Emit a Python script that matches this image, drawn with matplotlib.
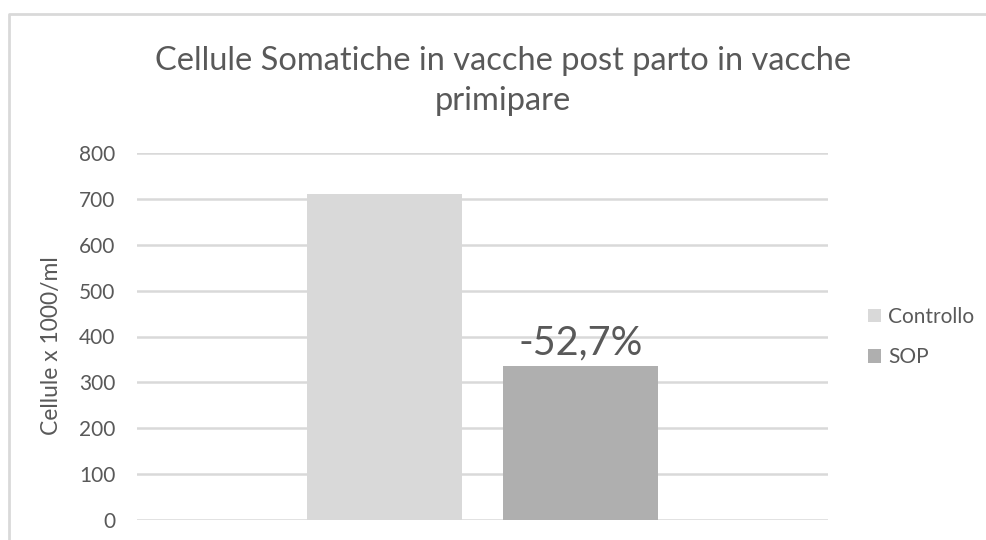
import matplotlib.pyplot as plt
from matplotlib.lines import Line2D
from matplotlib.patches import Patch

plt.rcParams['font.family'] = ['Lato', 'DejaVu Sans']

# dati
serie = ['Controllo', 'SOP']
valori = [711, 336]
colori = ['#d9d9d9', '#afafaf']
etichetta = '-52,7%'
yticks = [0, 100, 200, 300, 400, 500, 600, 700, 800]

W, H = 986, 540
grigio = '#595959'
fig = plt.figure(figsize=(W / 100, H / 100), dpi=100)
ax = fig.add_axes([137 / W, 1 - 520 / H, (828 - 137) / W, (520 - 153) / H])

offset = [-0.142, 0.142]
larghezza = 0.224
for i in range(len(serie)):
    ax.bar(offset[i], valori[i], width=larghezza, color=colori[i], zorder=3)

ax.set_xlim(-0.5, 0.5)
ax.set_ylim(0, 800)
ax.set_yticks(yticks)
ax.set_xticks([])
ax.grid(axis='y', color='#d9d9d9', linewidth=1.8, zorder=0)
for s in ax.spines.values():
    s.set_visible(False)
ax.tick_params(axis='y', length=0, pad=15.5, labelsize=15, labelcolor=grigio)

fig.text(52 / W, 1 - 346 / H, 'Cellule x 1000/ml', rotation=90, ha='center', va='center',
         fontsize=16.5, color=grigio)

ax.text(offset[1], valori[1] + 10, etichetta, ha='center', va='bottom',
        fontsize=28.5, color=grigio)

fig.text(503 / W, 1 - 81 / H, 'Cellule Somatiche in vacche post parto in vacche\nprimipare',
         ha='center', va='center', fontsize=23.5, color=grigio, linespacing=1.38)

handles = [Patch(facecolor=c, edgecolor='none') for c in colori]
fig.legend(handles, serie, loc='center left', bbox_to_anchor=(868 / W, 1 - 337 / H),
           frameon=False, fontsize=15, labelcolor=grigio, handlelength=0.6,
           handleheight=0.6, handletextpad=0.35, labelspacing=1.0, borderpad=0,
           borderaxespad=0)

# cornice
fig.add_artist(Line2D([9 / W, 9 / W, 1], [0, 1 - 14 / H, 1 - 14 / H],
                      transform=fig.transFigure, color='#d9d9d9', linewidth=2))

fig.savefig('out.png', dpi=100)
